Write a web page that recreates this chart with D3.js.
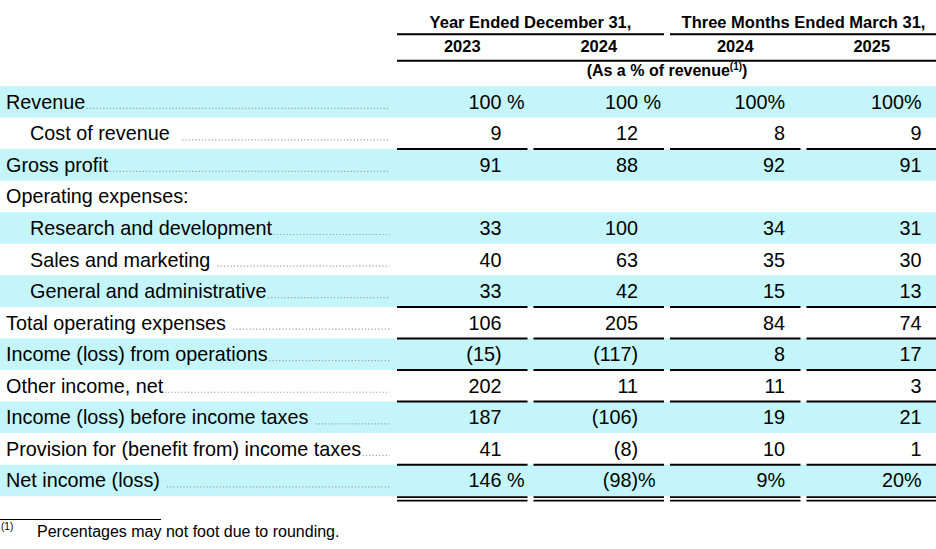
<!DOCTYPE html>
<html><head><meta charset="utf-8">
<script src="https://cdn.jsdelivr.net/npm/d3@7/dist/d3.min.js"></script>
<style>
body{margin:0;background:#fff}
svg{display:block}
text{font-family:"Liberation Sans",Arial,Helvetica,sans-serif;fill:#000;white-space:pre}
</style>
</head><body>
<svg id="c" width="936" height="549" xml:space="preserve"></svg>
<script>
// ---------- data ----------
const categories = [
  "Revenue",
  "Cost of revenue  ",
  "Gross profit",
  "Operating expenses:",
  "Research and development",
  "Sales and marketing ",
  "General and administrative",
  "Total operating expenses ",
  "Income (loss) from operations",
  "Other income, net",
  "Income (loss) before income taxes ",
  "Provision for (benefit from) income taxes",
  "Net income (loss) "
];
const subItems = ["Cost of revenue  ","Research and development","Sales and marketing ","General and administrative"];
const noLeader = ["Operating expenses:"];
const percentRows = ["Revenue","Net income (loss) "];
const singleRuleBelow = ["Cost of revenue  ","General and administrative","Total operating expenses ","Income (loss) from operations","Other income, net","Provision for (benefit from) income taxes"];
const doubleRuleBelow = ["Net income (loss) "];

const groupLabels = ["Year Ended December 31,","Three Months Ended March 31,"];
const columnKeys = ["fy2023","fy2024","q2024","q2025"];
const periodLabels = ["2023","2024","2024","2025"];
const columnGroup = [0,0,1,1];
const unitLabel = "(As a % of revenue";
const footnoteMark = "(1)";
const footnoteText = "Percentages may not foot due to rounding.";

const fy2023 = [100, 9, 91, null, 33, 40, 33, 106, -15, 202, 187, 41, 146];
const fy2024 = [100, 12, 88, null, 100, 63, 42, 205, -117, 11, -106, -8, -98];
const q2024  = [100, 8, 92, null, 34, 35, 15, 84, 8, 11, 19, 10, 9];
const q2025  = [100, 9, 91, null, 31, 30, 13, 74, 17, 3, 21, 1, 20];
const series = [fy2023, fy2024, q2024, q2025];

// ---------- layout ----------
const W = 936, H = 549;
const svg = d3.select("#c");
const shade = "#c4f5fa";
const fontSize = 19.8;

const y = d3.scaleBand().domain(categories).range([86, 496.2]).padding(0);
const x = d3.scaleBand().domain(columnKeys).range([397, 937]).paddingInner(6/136.5).paddingOuter(0);
const bw = x.bandwidth();

const fmt = v => v < 0 ? `(${-v})` : `${v}`;

// row shading (alternating)
svg.append("g").selectAll("rect").data(categories.filter((d,i)=>i%2===0)).join("rect")
  .attr("x",0).attr("width",W).attr("y",d=>y(d)).attr("height",y.bandwidth()).attr("fill",shade);

// header
const hdr = svg.append("g").attr("font-weight","bold");
groupLabels.forEach((g,gi)=>{
  const cols = columnKeys.filter((k,i)=>columnGroup[i]===gi);
  const x0 = x(cols[0]), x1 = x(cols[cols.length-1]) + bw;
  hdr.append("text").attr("x",(x0+x1)/2).attr("y",28).attr("text-anchor","middle")
    .attr("font-size",16.5).style("font-weight","bold").text(g);
  svg.append("line").attr("x1",x0).attr("x2",x1).attr("y1",34.3).attr("y2",34.3)
    .attr("stroke","#000").attr("stroke-width",2);
});
columnKeys.forEach((k,i)=>{
  hdr.append("text").attr("x",x(k)+bw/2).attr("y",52).attr("text-anchor","middle")
    .attr("font-size",16.5).style("font-weight","bold").text(periodLabels[i]);
});
svg.append("line").attr("x1",x(columnKeys[0])).attr("x2",x(columnKeys[3])+bw)
  .attr("y1",60.7).attr("y2",60.7).attr("stroke","#000").attr("stroke-width",2);
const ut = hdr.append("text").attr("x",(x(columnKeys[0])+x(columnKeys[3])+bw)/2).attr("y",76)
  .attr("text-anchor","middle").attr("font-size",16).style("font-weight","bold");
ut.append("tspan").text(unitLabel);
ut.append("tspan").attr("font-size",10).attr("dy",-6).text(footnoteMark);
ut.append("tspan").attr("dy",6).text(")");

// labels + leaders
const rowsG = svg.append("g");
categories.forEach((c,i)=>{
  const base = y(c) + y.bandwidth()/2 + 7;
  const lx = subItems.includes(c) ? 30 : 6;
  const t = rowsG.append("text").attr("x",lx).attr("y",base).attr("font-size",fontSize).text(c);
  if(!noLeader.includes(c)){
    const end = lx + t.node().getComputedTextLength();
    rowsG.append("line").attr("x1",end+1.5).attr("x2",389.5).attr("y1",base-0.5).attr("y2",base-0.5)
      .attr("stroke","#a0a0a0").attr("stroke-width",1.2).attr("stroke-dasharray","1.2 2.1");
  }
});

// values
const valG = svg.append("g").attr("font-size",fontSize);
columnKeys.forEach((k,ci)=>{
  const annual = columnGroup[ci]===0;
  const right = x(k) + bw - (annual ? 26 : 15.5);
  series[ci].forEach((v,ri)=>{
    if(v===null) return;
    const c = categories[ri];
    const base = y(c) + y.bandwidth()/2 + 7;
    const isPct = percentRows.includes(c);
    if(annual){
      valG.append("text").attr("x",right).attr("y",base).attr("text-anchor","end").text(fmt(v));
      if(isPct) valG.append("text").attr("x",right).attr("y",base).text(v<0?"%":" %");
    } else {
      valG.append("text").attr("x",right).attr("y",base).attr("text-anchor","end").text(fmt(v)+(isPct?"%":""));
    }
  });
});

// rules
const ruleG = svg.append("g").attr("stroke","#000");
singleRuleBelow.forEach(c=>{
  const yb = y(c)+y.bandwidth();
  columnKeys.forEach(k=>{
    ruleG.append("line").attr("x1",x(k)).attr("x2",x(k)+bw).attr("y1",yb).attr("y2",yb).attr("stroke-width",2);
  });
});
doubleRuleBelow.forEach(c=>{
  const yb = y(c)+y.bandwidth();
  columnKeys.forEach(k=>{
    ruleG.append("line").attr("x1",x(k)).attr("x2",x(k)+bw).attr("y1",yb+1).attr("y2",yb+1).attr("stroke-width",1.8);
    ruleG.append("line").attr("x1",x(k)).attr("x2",x(k)+bw).attr("y1",yb+4.5).attr("y2",yb+4.5).attr("stroke-width",1.8);
  });
});

// footnote
svg.append("line").attr("x1",0).attr("x2",161).attr("y1",519.5).attr("y2",519.5).attr("stroke","#000").attr("stroke-width",1);
svg.append("text").attr("x",1).attr("y",530).attr("font-size",10).text(footnoteMark);
svg.append("text").attr("x",37).attr("y",537).attr("font-size",16).text(footnoteText);
</script>
</body></html>
